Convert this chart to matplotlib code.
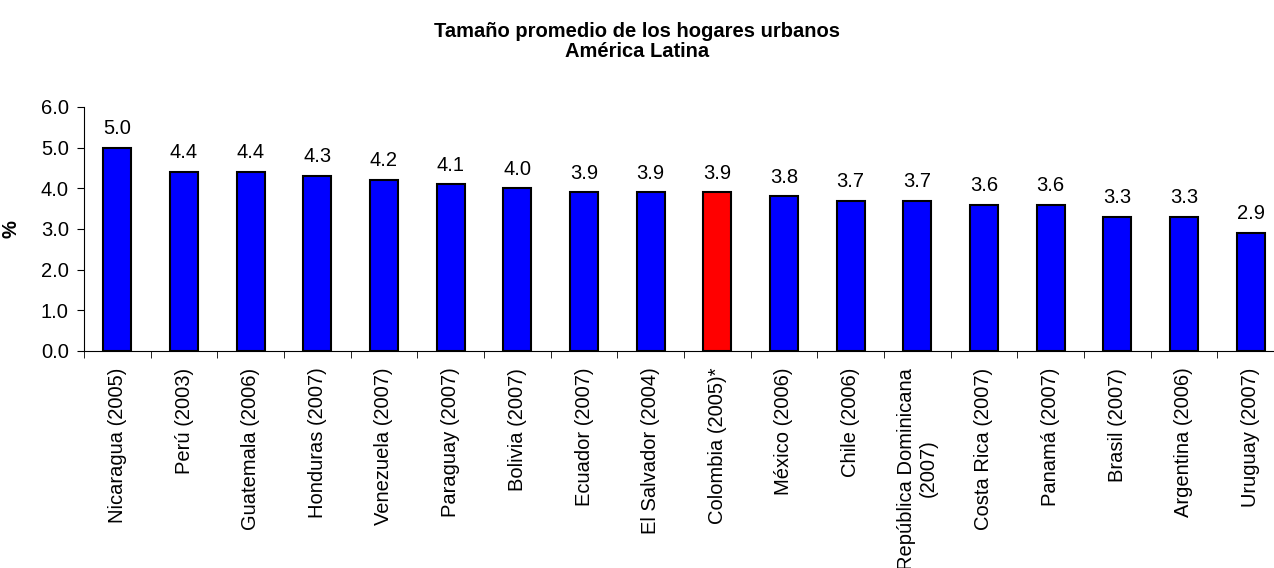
import matplotlib.pyplot as plt
import numpy as np

plt.rcParams['font.family'] = ['Liberation Sans', 'DejaVu Sans']

# datos
paises = ['Nicaragua (2005)', 'Perú (2003)', 'Guatemala (2006)', 'Honduras (2007)',
          'Venezuela (2007)', 'Paraguay (2007)', 'Bolivia (2007)', 'Ecuador (2007)',
          'El Salvador (2004)', 'Colombia (2005)*', 'México (2006)', 'Chile (2006)',
          'República Dominicana\n(2007)', 'Costa Rica (2007)', 'Panamá (2007)',
          'Brasil (2007)', 'Argentina (2006)', 'Uruguay (2007)']
tamano = [5.0, 4.4, 4.4, 4.3, 4.2, 4.1, 4.0, 3.9, 3.9, 3.9, 3.8, 3.7, 3.7, 3.6, 3.6, 3.3, 3.3, 2.9]
destacado = 'Colombia (2005)*'

fs = 14.5
fig = plt.figure(figsize=(12.74, 5.68), dpi=100)
# el eje derecho queda cortado por el borde de la imagen, como en el original
ax = fig.add_axes([84 / 1274, 1 - 351 / 568, 1200 / 1274, (351 - 107) / 568])

x = np.arange(len(paises))
colores = ['#ff0000' if p == destacado else '#0000ff' for p in paises]
ax.bar(x, tamano, width=0.42, color=colores, edgecolor='black', linewidth=1.5)
for xi, v in zip(x, tamano):
    ax.annotate('%.1f' % v, (xi, v), xytext=(0, 7), textcoords='offset points',
                ha='center', va='bottom', fontsize=fs)

ax.set_xlim(-0.5, len(paises) - 0.5)
ax.set_ylim(0, 6)
ax.set_yticks(np.arange(0, 6.1, 1.0))
ax.set_yticklabels(['%.1f' % t for t in np.arange(0, 6.1, 1.0)], fontsize=fs)
ax.set_xticks(x)
ax.set_xticklabels(paises, rotation=90, fontsize=fs, ha='center', va='top', multialignment='center')
ax.set_xticks(np.arange(-0.5, len(paises)), minor=True)
ax.tick_params(axis='x', which='major', length=0, pad=12)
ax.tick_params(axis='x', which='minor', length=5, direction='out')
ax.tick_params(axis='y', length=5, direction='out', pad=6)
ax.spines['top'].set_visible(False)
ax.spines['right'].set_visible(False)
ax.set_ylabel('%', fontsize=fs, fontweight='bold')
ax.yaxis.set_label_coords(-0.053, 0.5)

fig.suptitle('Tamaño promedio de los hogares urbanos\nAmérica Latina', y=0.962,
             fontsize=fs, fontweight='bold', linespacing=1.1)

plt.savefig('out.png')
